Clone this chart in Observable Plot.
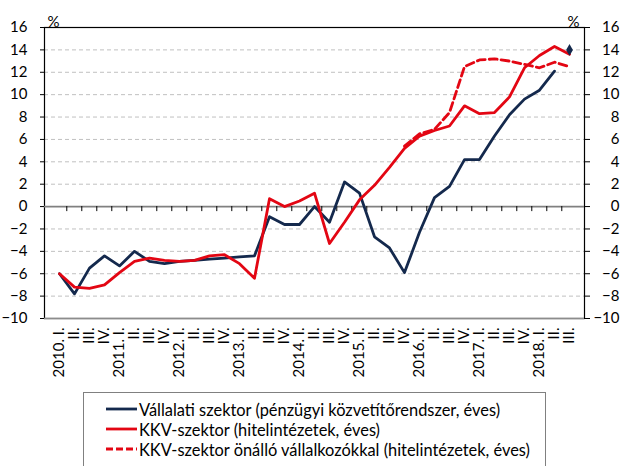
<!DOCTYPE html>
<html><head><meta charset="utf-8">
<script src="https://cdn.jsdelivr.net/npm/d3@7"></script>
<script src="https://cdn.jsdelivr.net/npm/@observablehq/plot@0.6"></script>
<style>
body{margin:0;background:#fff;font-family:Lato,sans-serif;}
#wrap{position:relative;width:625px;height:466px;overflow:hidden;}
#legend{position:absolute;left:83px;top:392px;width:463px;height:90px;border:1px solid #808080;box-sizing:border-box;background:#fff;}
.row{position:absolute;left:22px;height:20px;display:flex;align-items:center;font-size:16.4px;color:#000;white-space:nowrap;}
.row svg{margin-right:2px;}
</style></head>
<body><div id="wrap"><div id="chart"></div><div id="legend"></div></div>
<script>
const periods = ["2010. I.","II.","III.","IV.","2011. I.","II.","III.","IV.","2012. I.","II.","III.","IV.",
  "2013. I.","II.","III.","IV.","2014. I.","II.","III.","IV.","2015. I.","II.","III.","IV.",
  "2016. I.","II.","III.","IV.","2017. I.","II.","III.","IV.","2018. I.","II.","III."];
const vallalati = [-6.0,-7.8,-5.5,-4.4,-5.3,-4.0,-4.9,-5.1,-4.9,-4.8,-4.7,-4.6,-4.5,-4.4,-0.9,-1.6,
  -1.6,0.0,-1.4,2.2,1.2,-2.7,-3.7,-5.9,-2.3,0.8,1.8,4.2,4.2,6.3,8.2,9.6,10.4,12.1,null];
const kkv = [-6.0,-7.2,-7.3,-7.0,-5.9,-4.9,-4.6,-4.8,-4.9,-4.8,-4.4,-4.3,-5.1,-6.4,0.7,0.0,
  0.5,1.2,-3.3,-1.4,0.6,1.9,3.5,5.2,6.3,6.8,7.2,9.0,8.3,8.4,9.8,12.4,13.5,14.3,13.6];
const kkvOnallo = [null,null,null,null,null,null,null,null,null,null,null,null,null,null,null,null,
  null,null,null,null,null,null,null,5.4,6.5,6.9,8.4,12.5,13.1,13.2,13.0,12.7,12.4,12.9,12.5];
const vallalatiLast = [{period: 34, value: 14.0}];
const yTicks = [-10,-8,-6,-4,-2,0,2,4,6,8,10,12,14,16];
const seriesNames = ["Vállalati szektor (pénzügyi közvetítőrendszer, éves)",
  "KKV-szektor (hitelintézetek, éves)",
  "KKV-szektor önálló vállalkozókkal (hitelintézetek, éves)"];

const NAVY = "#14294d", RED = "#e30613";
const idx = periods.map((_, i) => i);
const toRows = arr => arr.map((v, i) => ({period: i, value: v}));
const gridVals = yTicks.filter(v => v !== 0 && v !== -10 && v !== 16);
const W = 625, ML = 44, MR = 41;
const step = (W - ML - MR) / periods.length;

const chart = Plot.plot({
  width: W, height: 388,
  marginLeft: ML, marginRight: MR, marginTop: 27, marginBottom: 70,
  style: {fontFamily: "Lato, sans-serif", fontSize: "15px", color: "#000", background: "#fff"},
  x: {type: "point", domain: idx, padding: 0.5, axis: null, label: null},
  y: {domain: [-10, 16], axis: null, label: null},
  marks: [
    Plot.ruleY(gridVals, {stroke: "#c0c0c0", strokeDasharray: "4,3", strokeWidth: 1}),
    Plot.frame({stroke: "#000", strokeWidth: 1.2}),
    Plot.ruleY([-10], {stroke: "#8c8c8c", strokeWidth: 1.5}),
    Plot.ruleY([0], {stroke: "#808080", strokeWidth: 1.6}),
    Plot.ruleX(idx.slice(1), {x: d => d, y1: 0, y2: -0.45, dx: -step / 2, stroke: "#000", strokeWidth: 1}),
    Plot.line(toRows(vallalati), {x: "period", y: "value", stroke: NAVY, strokeWidth: 2.8}),
    Plot.line(toRows(kkv), {x: "period", y: "value", stroke: RED, strokeWidth: 2.8}),
    Plot.line(toRows(kkvOnallo), {x: "period", y: "value", stroke: RED, strokeWidth: 2.8, strokeDasharray: "8,4"}),
    Plot.dot(vallalatiLast, {x: "period", y: "value", symbol: "diamond", fill: NAVY, r: 3.6}),
    Plot.axisY(yTicks, {anchor: "left", label: null, tickSize: 4, tickPadding: 13, fontSize: 15, stroke: "#000"}),
    Plot.axisY(yTicks, {anchor: "right", label: null, tickSize: 5, tickPadding: 30, textAnchor: "end", fontSize: 15, stroke: "#000"}),
    Plot.axisX(idx, {anchor: "bottom", label: null, tickSize: 0, tickRotate: -90, tickPadding: 9, textAnchor: "end",
      tickFormat: i => periods[i], fontSize: 15}),
    Plot.text(["%"], {frameAnchor: "top-left", dx: 3, dy: -11, textAnchor: "start", fontSize: 15}),
    Plot.text(["%"], {frameAnchor: "top-right", dx: -5, dy: -11, textAnchor: "end", fontSize: 15})
  ]
});
document.getElementById("chart").appendChild(chart);

const legend = document.getElementById("legend");
const styles = [{c: NAVY, d: null}, {c: RED, d: null}, {c: RED, d: "7,3"}];
seriesNames.forEach((name, i) => {
  const row = document.createElement("div");
  row.className = "row";
  row.style.top = (6 + i * 20) + "px";
  const s = styles[i];
  row.innerHTML = `<svg width="31" height="6"><line x1="0" y1="3" x2="31" y2="3" stroke="${s.c}" stroke-width="2.8" ${s.d ? `stroke-dasharray="${s.d}"` : ""}/></svg><span>${name}</span>`;
  legend.appendChild(row);
});
</script></body></html>
